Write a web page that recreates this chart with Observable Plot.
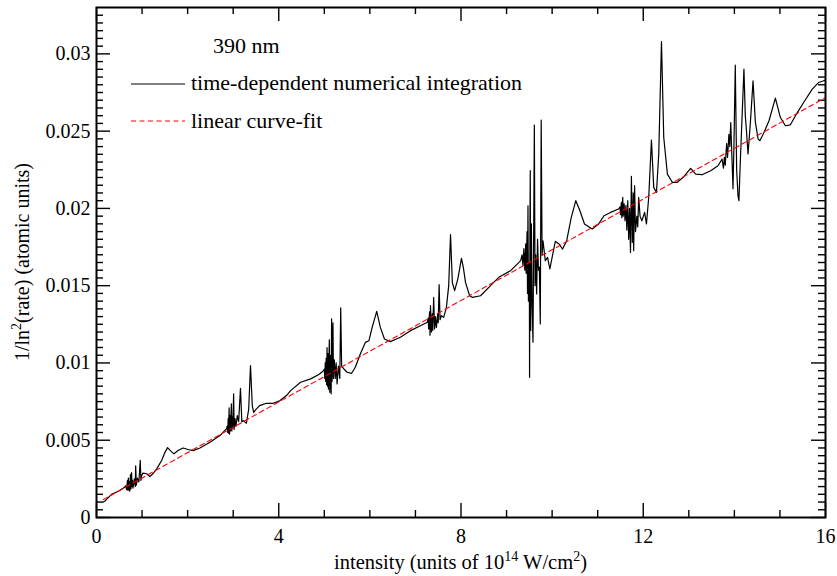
<!DOCTYPE html>
<html>
<head>
<meta charset="utf-8">
<script src="https://cdn.jsdelivr.net/npm/d3@7"></script>
<script src="https://cdn.jsdelivr.net/npm/@observablehq/plot@0.6"></script>
<style>
  html, body { margin: 0; padding: 0; background: #fff; }
  #chart { width: 837px; height: 576px; }
</style>
</head>
<body>
<div id="chart"></div>
<script>
// ---- data ----
const intensity = [
  0.15,0.18,0.33,0.48,0.60,
  0.64,0.66,0.68,0.69,0.70,0.71,0.72,0.73,0.745,0.755,0.77,0.78,0.79,0.80,0.83,0.85,0.86,0.875,0.90,0.93,0.96,0.975,0.99,
  1.02,1.10,1.17,1.24,1.32,1.43,1.50,1.56,1.62,1.70,1.79,1.90,2.01,2.12,2.27,2.49,2.71,2.85,
  2.87,2.88,2.89,2.90,2.91,2.92,2.93,2.94,2.96,2.97,2.98,2.99,3.01,3.02,3.04,3.06,3.09,3.12,3.16,3.19,
  3.22,3.29,3.34,3.38,3.42,3.45,3.50,3.58,3.73,3.88,4.02,4.17,4.26,4.48,4.70,4.88,4.97,
  5.00,5.01,5.02,5.03,5.04,5.05,5.06,5.07,5.08,5.09,5.11,5.12,5.14,5.15,5.16,5.17,5.19,5.20,5.22,5.24,5.26,5.28,5.31,5.34,5.36,5.38,
  5.43,5.50,5.60,5.68,5.79,5.90,5.98,6.05,6.15,6.23,6.32,6.45,6.67,6.89,7.11,7.26,
  7.28,7.29,7.31,7.32,7.33,7.35,7.37,7.38,7.40,7.42,7.44,7.46,7.49,7.50,7.52,7.54,
  7.57,7.62,7.68,7.73,7.77,7.81,7.86,7.93,8.01,8.05,8.10,8.19,8.25,8.43,8.68,8.83,9.09,9.31,
  9.34,9.36,9.38,9.40,9.42,9.43,9.45,9.46,9.47,9.48,9.50,9.505,9.515,9.52,9.53,9.545,9.56,9.58,9.61,9.625,9.64,9.66,9.68,9.70,9.72,9.74,9.76,9.78,
  9.80,9.85,9.90,9.95,10.00,10.07,10.15,10.23,10.32,10.42,10.52,10.61,10.71,10.88,11.02,11.14,11.28,11.46,
  11.49,11.50,11.52,11.53,11.55,11.56,11.58,11.60,11.62,11.64,11.66,11.68,11.70,11.72,11.74,11.76,11.78,11.79,11.81,11.83,11.86,11.88,11.90,11.93,11.97,
  12.03,12.07,12.12,12.18,12.23,12.29,12.34,12.40,12.45,12.53,12.64,12.74,12.89,13.04,13.15,13.29,13.48,13.64,13.73,
  13.76,13.78,13.80,13.83,13.85,13.88,13.90,13.92,13.95,13.97,13.99,14.02,14.05,14.08,14.10,14.13,14.17,14.21,14.24,14.26,14.30,14.35,14.41,14.46,14.52,14.56,
  14.65,14.76,14.90,15.01,15.12,15.23,15.34,15.52,15.71,15.85,15.96,16.00
];
const rateInv = [
  0.00100,0.00105,0.00150,0.00170,0.00192,
  0.00205,0.00180,0.00240,0.00175,0.00255,0.00180,0.00230,0.00170,0.00280,0.00185,0.00290,0.00200,0.00240,0.00190,0.00250,0.00200,0.00335,0.00210,0.00255,0.00230,0.00370,0.00240,0.00270,
  0.00287,0.00283,0.00265,0.00283,0.00315,0.00369,0.00420,0.00452,0.00433,0.00412,0.00433,0.00450,0.00440,0.00433,0.00450,0.00487,0.00530,0.00573,
  0.00590,0.00550,0.00640,0.00545,0.00710,0.00540,0.00660,0.00560,0.00735,0.00560,0.00650,0.00580,0.00800,0.00570,0.00640,0.00590,0.00660,0.00620,0.00836,0.00620,
  0.00627,0.00610,0.00700,0.00983,0.00720,0.00680,0.00700,0.00724,0.00739,0.00739,0.00755,0.00789,0.00821,0.00875,0.00897,0.00925,0.00946,
  0.00960,0.00900,0.01000,0.00880,0.01030,0.00860,0.01100,0.00850,0.01060,0.00830,0.01150,0.00810,0.01050,0.00800,0.01285,0.00880,0.01260,0.00900,0.01020,0.00900,0.01000,0.00864,0.00980,0.00900,0.01356,0.00980,
  0.00961,0.00940,0.00933,0.00972,0.01058,0.01133,0.01144,0.01230,0.01334,0.01230,0.01155,0.01138,0.01166,0.01209,0.01241,0.01263,
  0.01290,0.01220,0.01330,0.01180,0.01371,0.01200,0.01320,0.01210,0.01424,0.01220,0.01300,0.01230,0.01320,0.01260,0.01507,0.01280,
  0.01306,0.01295,0.01360,0.01500,0.01830,0.01520,0.01468,0.01543,0.01677,0.01620,0.01520,0.01435,0.01424,0.01435,0.01510,0.01554,0.01597,0.01662,
  0.01700,0.01630,0.01740,0.01600,0.01770,0.01580,0.01850,0.01450,0.02017,0.01400,0.01650,0.00907,0.02000,0.02244,0.01210,0.01900,0.01400,0.01134,0.02539,0.01500,0.01700,0.01447,0.01800,0.01600,0.01620,0.01252,0.02572,0.01700,
  0.01790,0.01662,0.01683,0.01608,0.01683,0.01787,0.01770,0.01737,0.01791,0.01942,0.02050,0.01985,0.01899,0.01867,0.01899,0.01953,0.01974,0.01996,
  0.02010,0.01960,0.02040,0.01940,0.02071,0.01950,0.02030,0.01920,0.02020,0.01860,0.02050,0.01800,0.02000,0.01715,0.02207,0.01780,0.02100,0.01726,0.02147,0.01850,0.01950,0.01880,0.02071,0.01950,0.01920,
  0.01974,0.01899,0.02071,0.02442,0.02136,0.02103,0.02352,0.03080,0.02459,0.02222,0.02168,0.02168,0.02205,0.02259,0.02222,0.02218,0.02244,0.02276,0.02319,
  0.02260,0.02330,0.02280,0.02420,0.02330,0.02480,0.02400,0.02556,0.02300,0.02127,0.02400,0.02927,0.02250,0.02080,0.02050,0.02300,0.02600,0.02901,0.02600,0.02524,0.02352,0.02550,0.02826,0.02560,0.02450,0.02438,
  0.02491,0.02567,0.02714,0.02588,0.02535,0.02541,0.02600,0.02685,0.02772,0.02815,0.02826,0.02830
];
const fitIntensity = [0.15, 16];
const fitValue = [0.00116, 0.02717];

const xMajorTicks = [0, 4, 8, 12, 16];
const xMinorTicks = [1, 2, 3, 5, 6, 7, 9, 10, 11, 13, 14, 15];
const yMajorTicks = [0, 0.005, 0.01, 0.015, 0.02, 0.025, 0.03];
const yMinorTicks = [0.0005,0.001,0.0015,0.002,0.0025,0.003,0.0035,0.004,0.0045,
  0.0055,0.006,0.0065,0.007,0.0075,0.008,0.0085,0.009,0.0095,
  0.0105,0.011,0.0115,0.012,0.0125,0.013,0.0135,0.014,0.0145,
  0.0155,0.016,0.0165,0.017,0.0175,0.018,0.0185,0.019,0.0195,
  0.0205,0.021,0.0215,0.022,0.0225,0.023,0.0235,0.024,0.0245,
  0.0255,0.026,0.0265,0.027,0.0275,0.028,0.0285,0.029,0.0295,
  0.0305,0.031,0.0315,0.032,0.0325];
const yTickLabels = ["0", "0.005", "0.01", "0.015", "0.02", "0.025", "0.03"];

const curve = intensity.map((x, i) => ({x, y: rateInv[i]}));
const fit = fitIntensity.map((x, i) => ({x, y: fitValue[i]}));

// ---- layout ----
const W = 837, H = 576;
const mL = 96, mR = 12, mT = 7, mB = 59;
const fW = W - mL - mR, fH = H - mT - mB;
const MAJ = 14, MIN = 7;
const FONT = "Liberation Serif, Times New Roman, serif";

const chart = Plot.plot({
  width: W, height: H,
  marginLeft: mL, marginRight: mR, marginTop: mT, marginBottom: mB,
  style: "font-family: 'Liberation Serif', serif; font-size: 20px; background: #fff; color: #000;",
  x: {domain: [0, 16]},
  y: {domain: [0, 0.033]},
  marks: [
    Plot.axisX(xMajorTicks, {tickSize: 0, tickPadding: 11, fontSize: 20, tickFormat: d => String(d), label: null}),
    Plot.axisY(yMajorTicks, {tickSize: 0, tickPadding: 6, fontSize: 20, tickFormat: (d, i) => yTickLabels[i], label: null}),
    // inward ticks, all four sides
    Plot.ruleX(xMajorTicks, {x: d => d, insetTop: fH - MAJ, stroke: "#000", strokeWidth: 1.4}),
    Plot.ruleX(xMajorTicks, {x: d => d, insetBottom: fH - MAJ, stroke: "#000", strokeWidth: 1.4}),
    Plot.ruleX(xMinorTicks, {x: d => d, insetTop: fH - MIN, stroke: "#000", strokeWidth: 1.4}),
    Plot.ruleX(xMinorTicks, {x: d => d, insetBottom: fH - MIN, stroke: "#000", strokeWidth: 1.4}),
    Plot.ruleY(yMajorTicks, {y: d => d, insetRight: fW - MAJ, stroke: "#000", strokeWidth: 1.4}),
    Plot.ruleY(yMajorTicks, {y: d => d, insetLeft: fW - MAJ, stroke: "#000", strokeWidth: 1.4}),
    Plot.ruleY(yMinorTicks, {y: d => d, insetRight: fW - MIN, stroke: "#000", strokeWidth: 1.4}),
    Plot.ruleY(yMinorTicks, {y: d => d, insetLeft: fW - MIN, stroke: "#000", strokeWidth: 1.4}),
    Plot.line(curve, {x: "x", y: "y", stroke: "#000", strokeWidth: 1.2, curve: "linear"}),
    Plot.line(fit, {x: "x", y: "y", stroke: "#ff0000", strokeWidth: 1.1, strokeDasharray: "5,3.5"}),
    Plot.frame({stroke: "#000", strokeWidth: 2})
  ]
});

document.getElementById("chart").appendChild(chart);

// ---- legend and axis titles (annotations) ----
const svg = d3.select(chart);
const g = svg.append("g").attr("font-family", FONT).attr("font-size", 20).attr("fill", "#000");

const lg = g.append("g").attr("font-size", 22).attr("text-anchor", "start");
lg.append("text").attr("x", 213).attr("y", 53).text("390 nm");
lg.append("line").attr("x1", 131).attr("x2", 185).attr("y1", 84).attr("y2", 84)
  .attr("stroke", "#000").attr("stroke-width", 1.2);
lg.append("text").attr("x", 191).attr("y", 90).text("time-dependent numerical integration");
lg.append("line").attr("x1", 131).attr("x2", 185).attr("y1", 121).attr("y2", 121)
  .attr("stroke", "#ff0000").attr("stroke-width", 1.1).attr("stroke-dasharray", "5,3.5");
lg.append("text").attr("x", 191).attr("y", 128).text("linear curve-fit");

// x-axis title
const xt = g.append("text").attr("x", mL + fW / 2).attr("y", 569).attr("text-anchor", "middle").attr("font-size", 20.5);
xt.append("tspan").text("intensity (units of 10");
xt.append("tspan").attr("dy", -8).attr("font-size", 14).text("14");
xt.append("tspan").attr("dy", 8).text(" W/cm");
xt.append("tspan").attr("dy", -8).attr("font-size", 14).text("2");
xt.append("tspan").attr("dy", 8).text(")");

// y-axis title
const yt = g.append("text").attr("transform", `translate(29,${mT + fH / 2}) rotate(-90)`).attr("text-anchor", "middle");
yt.append("tspan").text("1/ln");
yt.append("tspan").attr("dy", -8).attr("font-size", 14).text("2");
yt.append("tspan").attr("dy", 8).text("(rate) (atomic units)");
</script>
</body>
</html>
